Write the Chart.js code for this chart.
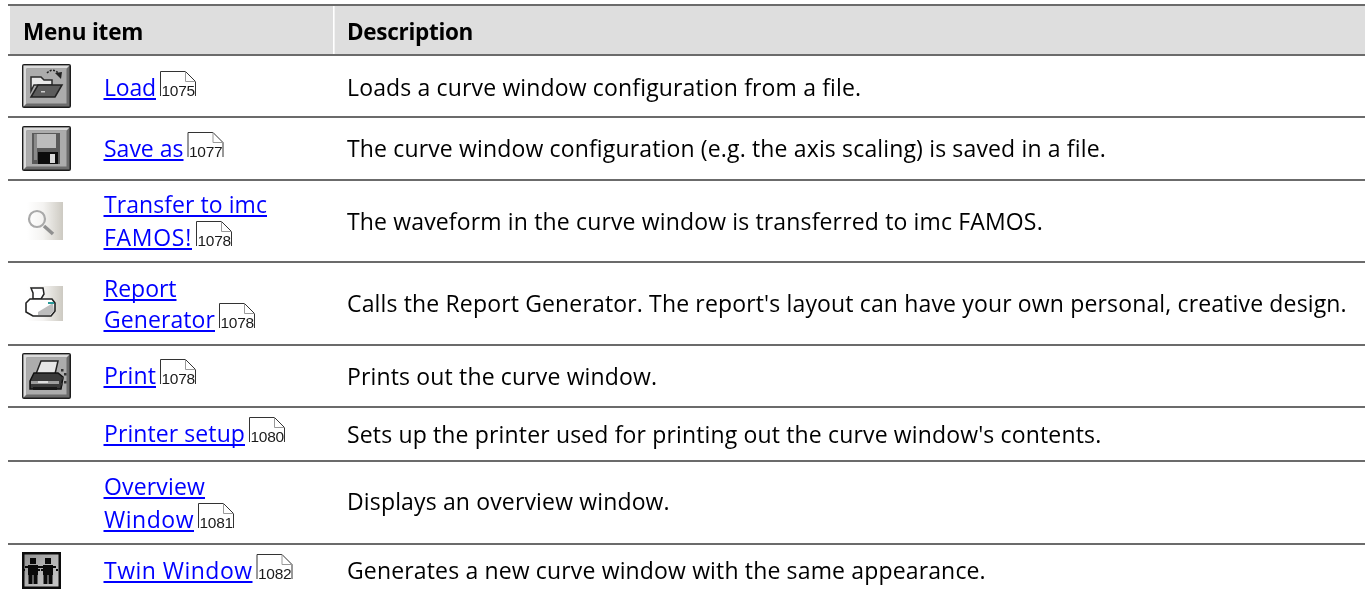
<!DOCTYPE html>
<html><head><meta charset="utf-8">
<style>html,body{margin:0;padding:0;background:#fff;overflow:hidden}canvas{display:block}</style>
<script src="https://cdn.jsdelivr.net/npm/chart.js@4"></script></head>
<body><canvas id="c" width="1365" height="594"></canvas>
<script>
const columnHeaders = ["Menu item", "Description"];
const menuItems = [["Load"],["Save as"],["Transfer to imc","FAMOS!"],["Report","Generator"],["Print"],["Printer setup"],["Overview","Window"],["Twin Window"]];
const linkWidths = [[52],[79.5],[163,88],[72.5,111],[52],[141],[101,90],[148.5]];
const pageRefs = ["1075","1077","1078","1078","1078","1080","1081","1082"];
const descriptions = ["Loads a curve window configuration from a file.",
"The curve window configuration (e.g. the axis scaling) is saved in a file.",
"The waveform in the curve window is transferred to imc FAMOS.",
"Calls the Report Generator. The report's layout can have your own personal, creative design.",
"Prints out the curve window.",
"Sets up the printer used for printing out the curve window's contents.",
"Displays an overview window.",
"Generates a new curve window with the same appearance."];
const rowEdges = [5,55,117.5,179.5,262,344.5,406.5,460.5,543.5];
const itemBaselines = [[96],[157],[213,246],[297,328],[384],[442],[495,528],[579]];
const descBaselines = [96,157,230,312,385,443,510,579];
const icons = ["load","save","zoom","report","print",null,null,"twin"];

const FONT='"Open Sans"';
const LS='0.15px';
function R(c,col,x,y,w,h){c.fillStyle=col;c.fillRect(x,y,w,h);}
function P(c,col,pts,stroke,lw){c.beginPath();pts.forEach((p,i)=>i?c.lineTo(p[0],p[1]):c.moveTo(p[0],p[1]));c.closePath();if(col){c.fillStyle=col;c.fill();}if(stroke){c.strokeStyle=stroke;c.lineWidth=lw||1;c.stroke();}}
function button(c,x,y,w,h){
  c.fillStyle='#1c1c1c';c.beginPath();c.roundRect(x,y,w,h,2);c.fill();
  R(c,'#6c6c6c',x+1.5,y+1.5,w-3,h-3);
  P(c,'#dcdcdc',[[x+1.5,y+1.5],[x+w-1.5,y+1.5],[x+w-4.5,y+4.5],[x+4.5,y+4.5],[x+4.5,y+h-4.5],[x+1.5,y+h-1.5]]);
  R(c,'#acacac',x+4.5,y+4.5,w-9,h-9);
}
const draw={
 load(c){const x=22,y=64;button(c,x,y,49,44);
  P(c,'#e8e8e8',[[9,13],[19,13],[22,16],[30,16],[30,21],[12,21],[9,27]].map(p=>[x+p[0],y+p[1]]),'#2a2a2a',1.5);
  P(c,'#5c5c5c',[[9,33],[16,21],[40,21],[33,33]].map(p=>[x+p[0],y+p[1]]),'#222',1.5);
  R(c,'#ccc',x+19,y+27,4,1.5);
  c.strokeStyle='#222';c.lineWidth=1.6;c.setLineDash([2,1.4]);c.beginPath();c.moveTo(x+25,y+9);c.quadraticCurveTo(x+31,y+3,x+37,y+10);c.stroke();c.setLineDash([]);
  P(c,'#222',[[33,9],[40,8],[39,15]].map(p=>[x+p[0],y+p[1]]));},
 save(c){const x=22,y=126;button(c,x,y,49,45);
  P(c,'#5a5a5a',[[10,7],[38,7],[38,38],[10,38]].map(p=>[x+p[0],y+p[1]]));
  R(c,'#bcbcbc',x+15,y+8,19,14);R(c,'#8a8a8a',x+12,y+8,3,26);
  R(c,'#0c0c0c',x+16,y+26,20,12);R(c,'#d8d8d8',x+28,y+28,5,9);},
 zoom(c){const g=c.createLinearGradient(27,0,63,0);g.addColorStop(0,'#ffffff');g.addColorStop(.45,'#f4f3f1');g.addColorStop(1,'#cdcac2');c.fillStyle=g;c.fillRect(27,202,36,38);
  c.strokeStyle='#a9a9a9';c.lineWidth=2.2;c.beginPath();c.arc(37,219,8,0,7);c.stroke();
  c.strokeStyle='#909090';c.lineWidth=3.5;c.beginPath();c.moveTo(44,226);c.lineTo(53,234);c.stroke();},
 report(c){const g=c.createLinearGradient(27,0,63,0);g.addColorStop(0,'#ffffff');g.addColorStop(.45,'#f4f3f1');g.addColorStop(1,'#cdcac2');c.fillStyle=g;c.fillRect(27,286,36,35);
  P(c,'#fff',[[31,288],[43,288],[44,294],[41,299],[33,299],[33,293]],'#222',1.5);
  P(c,'#fff',[[30,299],[52,299],[55,303],[55,311],[51,316],[33,316],[26,312],[26,303]],'#222',1.6);
  P(c,'#bdbdbd',[[38,312],[53,303],[54,311],[50,315],[38,315]]);R(c,'#2a9a9a',48,302,6,2);},
 print(c){const x=22,y=353;button(c,x,y,49,46);
  P(c,'#e6e6e6',[[19,8],[36,8],[33,21],[14,21]].map(p=>[x+p[0],y+p[1]]),'#222',1.5);
  P(c,'#3a3a3a',[[8,28],[12,20],[36,20],[41,24],[39,36],[8,36]].map(p=>[x+p[0],y+p[1]]),'#111',1.5);
  R(c,'#9e9e9e',x+9,y+28,28,3);R(c,'#ddd',x+16,y+28,10,2);R(c,'#181818',x+11,y+34,24,3);
  c.fillStyle='#333';[[39,16],[42,20],[39,24],[42,28],[38,30]].forEach(p=>{c.fillRect(x+p[0],y+p[1],2.5,2.5);});},
 twin(c){const x=22,y=552;c.fillStyle='#0c0c0c';c.fillRect(x,y,39,37);const g=c.createLinearGradient(x,y,x+39,y+37);g.addColorStop(0,'#8c8c8c');g.addColorStop(.5,'#b4b4b4');g.addColorStop(1,'#c8c8c8');c.fillStyle=g;c.fillRect(x+2.5,y+2.5,34,32);
  [11,26].forEach(f=>{const a=x+f;c.fillStyle='#0a0a0a';c.fillRect(a-3,y+6,6,6);c.fillRect(a-5,y+13,10,10);c.fillRect(a-4.5,y+23,4,9);c.fillRect(a+.5,y+23,4,9);c.fillRect(a-8,y+14,3,2);c.fillRect(a+5,y+14,3,2);c.fillRect(a-10,y+17,2,2);c.fillRect(a+8,y+17,2,2);});}
};
function pageRef(c,x,y,label){
  c.strokeStyle='#333';c.lineWidth=1;c.beginPath();c.moveTo(x+.5,y+25);c.lineTo(x+.5,y+.5);c.lineTo(x+25.5,y+.5);c.lineTo(x+35.5,y+10.5);c.lineTo(x+35.5,y+25);c.stroke();
  c.strokeStyle='#999';c.beginPath();c.moveTo(x+25.5,y+.5);c.lineTo(x+25.5,y+10.5);c.lineTo(x+35.5,y+10.5);c.stroke();
  c.fillStyle='#1a1a1a';c.font='15.5px "Liberation Sans"';c.letterSpacing='-0.3px';c.textAlign='left';c.textBaseline='alphabetic';c.fillText(label,x+1.5,y+25);c.letterSpacing='0px';
}
const tablePlugin={id:'table',
 beforeDraw(ch){const c=ch.ctx,xs=ch.scales.x,ys=ch.scales.y;
  c.save();c.fillStyle='#dedede';c.fillRect(xs.getPixelForValue(10),ys.getPixelForValue(rowEdges[0]),xs.right-xs.getPixelForValue(10),ys.getPixelForValue(rowEdges[1])-ys.getPixelForValue(rowEdges[0]));
  c.fillStyle='#fff';c.fillRect(xs.getPixelForValue(333),ys.getPixelForValue(rowEdges[0]),1.6,ys.getPixelForValue(rowEdges[1])-ys.getPixelForValue(rowEdges[0]));c.restore();},
 afterDraw(ch){const c=ch.ctx,xs=ch.scales.x,ys=ch.scales.y;c.save();
  c.textAlign='left';c.textBaseline='alphabetic';c.letterSpacing='-0.2px';
  c.fillStyle='#000';c.font='bold 22.5px '+FONT;
  c.fillText(columnHeaders[0],xs.getPixelForValue(23),ys.getPixelForValue(40));
  c.letterSpacing='-0.3px';
  c.fillText(columnHeaders[1],xs.getPixelForValue(347),ys.getPixelForValue(40));
  c.filter='blur(0.35px)';
  icons.forEach(k=>{if(k)draw[k](c);});
  c.filter='none';
  menuItems.forEach((lines,r)=>{
    lines.forEach((t,i)=>{
      const x=xs.getPixelForValue(104),y=ys.getPixelForValue(itemBaselines[r][i]),w=linkWidths[r][i];
      c.letterSpacing='0px';c.font='23px '+FONT;
      const nat=c.measureText(t).width;
      c.letterSpacing=((w-nat)/t.length).toFixed(3)+'px';
      c.fillStyle='#0000ff';c.fillText(t,x,y);
      c.fillRect(x-.5,y+2,w+.5,2);
      if(i===lines.length-1){c.letterSpacing='0px';pageRef(c,x+w+4,y-25,pageRefs[r]);}
    });
    c.letterSpacing=LS;c.font='23px '+FONT;c.fillStyle='#000';
    c.fillText(descriptions[r],xs.getPixelForValue(347),ys.getPixelForValue(descBaselines[r]));
  });
  c.restore();}
};
new Chart(document.getElementById('c'),{type:'scatter',
 data:{datasets:[{label:'Rows',data:[],pointRadius:0}]},
 plugins:[tablePlugin],
 options:{responsive:false,animation:false,devicePixelRatio:1,layout:{padding:{left:8}},
  plugins:{legend:{display:false},tooltip:{enabled:false}},
  scales:{
   x:{type:'linear',min:8,max:1365,display:true,border:{display:false},grid:{display:false},ticks:{display:false},afterFit(s){s.height=0;}},
   y:{type:'linear',min:0,max:594,reverse:true,display:true,border:{display:false},
      afterFit(s){s.width=0;},
      afterBuildTicks(s){s.ticks=rowEdges.map(v=>({value:v}));},
      grid:{color:'#6b6b6b',lineWidth:2,drawTicks:false},ticks:{display:false}}
  }}});
</script></body></html>
